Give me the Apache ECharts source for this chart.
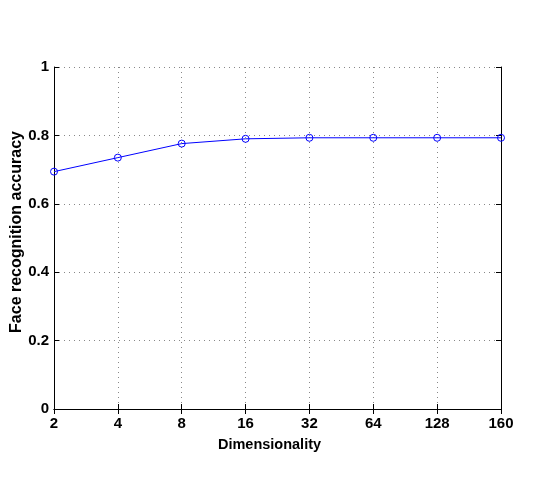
<!DOCTYPE html>
<html><head><meta charset="utf-8">
<script src="https://cdn.jsdelivr.net/npm/echarts@6/dist/echarts.min.js"></script>
<style>html,body{margin:0;padding:0;background:#fff}#c{width:538px;height:493px}</style>
</head><body><div id="c"></div>
<script>
const categories = ['2','4','8','16','32','64','128','160'];
const accuracy = [0.694, 0.735, 0.776, 0.790, 0.793, 0.793, 0.793, 0.793];
const yTicks = [0, 0.2, 0.4, 0.6, 0.8, 1];

const font = 'Liberation Sans, Arial, Helvetica, sans-serif';
const chart = echarts.init(document.getElementById('c'));
const splitStyle = {show:true, lineStyle:{color:'#888', type:[1,4], width:1}};
chart.setOption({
  animation:false,
  grid:{left:54, right:37, top:67, bottom:84, containLabel:false, outerBoundsMode:'none'},
  xAxis:[{
    type:'category', data:categories, boundaryGap:false,
    axisLine:{lineStyle:{color:'#000', width:1}},
    axisTick:{inside:true, length:5, lineStyle:{color:'#000'}},
    axisLabel:{color:'#000', fontFamily:font, fontWeight:'bold', fontSize:15, margin:7},
    splitLine:splitStyle,
    name:'Dimensionality', nameLocation:'middle', nameGap:28, nameMoveOverlap:false,
    nameTextStyle:{color:'#000', fontFamily:font, fontWeight:'bold', fontSize:14.5, padding:[0,16,0,0]}
  },{
    type:'category', data:categories, boundaryGap:false, position:'top',
    axisLine:{lineStyle:{color:'#000', width:1}},
    axisTick:{inside:true, length:5, lineStyle:{color:'#000'}},
    axisLabel:{show:false}, splitLine:{show:false}
  }],
  yAxis:[{
    type:'value', min:0, max:1, interval:0.2,
    axisLine:{show:true, lineStyle:{color:'#000', width:1}},
    axisTick:{show:true, inside:true, length:5, lineStyle:{color:'#000'}},
    axisLabel:{color:'#000', fontFamily:font, fontWeight:'bold', fontSize:15, margin:5,
      formatter:v=>{const t=yTicks.find(x=>Math.abs(x-v)<1e-9); return t===undefined?'':(t===0||t===1?String(t):t.toFixed(1));}},
    splitLine:splitStyle,
    name:'Face recognition accuracy', nameLocation:'middle', nameGap:29.5, nameMoveOverlap:false,
    nameTextStyle:{color:'#000', fontFamily:font, fontWeight:'bold', fontSize:16, padding:[0,0,0,12]}
  },{
    type:'value', min:0, max:1, interval:0.2, position:'right',
    axisLine:{show:true, lineStyle:{color:'#000', width:1}},
    axisTick:{show:true, inside:true, length:5, lineStyle:{color:'#000'}},
    axisLabel:{show:false}, splitLine:{show:false}
  }],
  series:[{
    type:'line', data:accuracy, xAxisIndex:0, yAxisIndex:0,
    symbol:'circle', symbolSize:7,
    lineStyle:{color:'#0000ff', width:1},
    itemStyle:{color:'rgba(0,0,0,0)', borderColor:'#0000ff', borderWidth:1}
  }]
});
</script></body></html>
